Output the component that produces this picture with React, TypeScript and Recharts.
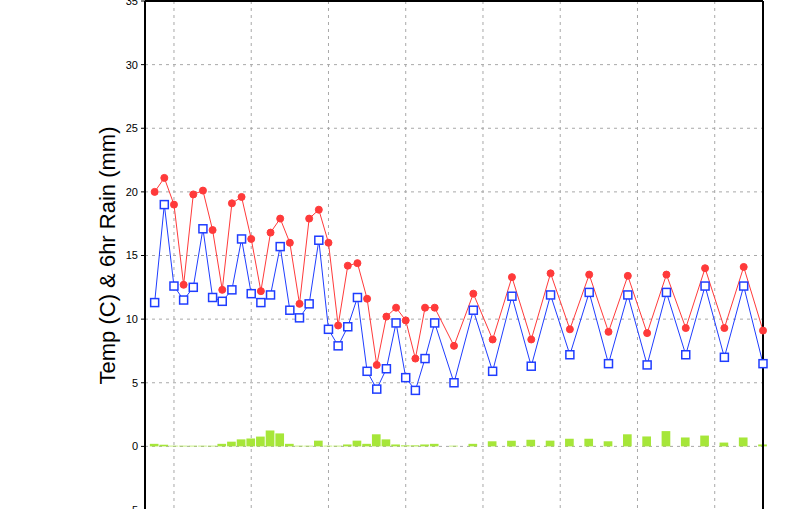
import React from "react";
import {
  ComposedChart,
  Line,
  Bar,
  XAxis,
  YAxis,
  CartesianGrid,
  ReferenceLine,
} from "recharts";

document.body.style.margin = "0";

// forecast hour of each sample (3-hourly, then 6-hourly)
const hours = [
  3, 6, 9, 12, 15, 18, 21, 24, 27, 30, 33, 36, 39, 42, 45, 48, 51, 54, 57, 60,
  63, 66, 69, 72, 75, 78, 81, 84, 87, 90, 96, 102, 108, 114, 120, 126, 132,
  138, 144, 150, 156, 162, 168, 174, 180, 186, 192,
];

const tempC = [
  20.0, 21.1, 19.0, 12.7, 19.8, 20.1, 17.0, 12.3, 19.1, 19.6, 16.3, 12.2, 16.8,
  17.9, 16.0, 11.2, 17.9, 18.6, 16.0, 9.5, 14.2, 14.4, 11.6, 6.4, 10.2, 10.9,
  9.9, 6.9, 10.9, 10.9, 7.9, 12.0, 8.4, 13.3, 8.4, 13.6, 9.2, 13.5, 9.0, 13.4,
  8.9, 13.5, 9.3, 14.0, 9.3, 14.1, 9.1,
];

const dewC = [
  11.3, 19.0, 12.6, 11.5, 12.5, 17.1, 11.7, 11.4, 12.3, 16.3, 12.0, 11.3, 11.9,
  15.7, 10.7, 10.1, 11.2, 16.2, 9.2, 7.9, 9.4, 11.7, 5.9, 4.5, 6.1, 9.7, 5.4,
  4.4, 6.9, 9.7, 5.0, 10.7, 5.9, 11.8, 6.3, 11.9, 7.2, 12.1, 6.5, 11.9, 6.4,
  12.1, 7.2, 12.6, 7.0, 12.6, 6.5,
];

const rainMm = [
  0.2, 0.13, 0.05, 0.05, 0.05, 0.05, 0.05, 0.2, 0.37, 0.55, 0.62, 0.77, 1.25,
  1.02, 0.2, 0.05, 0.05, 0.45, 0.05, 0.05, 0.15, 0.45, 0.2, 0.95, 0.55, 0.15,
  0.08, 0.08, 0.15, 0.2, 0.05, 0.2, 0.4, 0.45, 0.52, 0.45, 0.6, 0.6, 0.4, 0.95,
  0.78, 1.2, 0.7, 0.85, 0.3, 0.7, 0.15,
];

const dayTicks = [9, 33, 57, 81, 105, 129, 153, 177];
const yTicks = [-5, 0, 5, 10, 15, 20, 25, 30, 35];

const data = hours.map((h, i) => ({
  h,
  temp: tempC[i],
  dew: dewC[i],
  rain: rainMm[i],
}));

const font = "'Liberation Sans', Arial, sans-serif";

const SquareDot = (props: any) => {
  const { cx, cy, index } = props;
  if (cx == null || cy == null) return <g key={`sq-${index}`} />;
  return (
    <rect
      key={`sq-${index}`}
      x={cx - 4}
      y={cy - 4}
      width={8}
      height={8}
      fill="#ffffff"
      stroke="#1f3dff"
      strokeWidth={1.5}
    />
  );
};

export default function App() {
  return (
    <div
      style={{
        width: 800,
        height: 509,
        overflow: "hidden",
        position: "relative",
        background: "#fff",
      }}
    >
      <div style={{ position: "absolute", top: -20, left: 0 }}>
        <ComposedChart
          width={800}
          height={560}
          data={data}
          margin={{ top: 21, right: 37, bottom: 30, left: 0 }}
        >
          <CartesianGrid
            stroke="#a8a8a8"
            strokeDasharray="3 4"
            horizontalValues={yTicks}
            verticalValues={dayTicks}
          />
          <XAxis
            type="number"
            dataKey="h"
            domain={[0, 192]}
            ticks={dayTicks}
            hide
          />
          <YAxis
            type="number"
            domain={[-5, 35]}
            ticks={yTicks}
            interval={0}
            width={145}
            axisLine={{ stroke: "#000", strokeWidth: 2 }}
            tickLine={{ stroke: "#000", strokeWidth: 1 }}
            tickSize={4}
            tickMargin={3}
            tick={{ fontSize: 11, fill: "#000", fontFamily: font }}
            label={{
              value: "Temp (C) & 6hr Rain (mm)",
              angle: -90,
              position: "center",
              dx: 35,
              style: { fontSize: 22, fill: "#000", fontFamily: font },
            }}
          />
          <Bar
            dataKey="rain"
            fill="#a6e639"
            barSize={10}
            isAnimationActive={false}
          />
          <Line
            type="linear"
            dataKey="temp"
            stroke="#ff3a3a"
            strokeWidth={1}
            dot={{ r: 3.5, fill: "#ff3a3a", stroke: "#ff3a3a", strokeWidth: 1 }}
            activeDot={false}
            isAnimationActive={false}
          />
          <Line
            type="linear"
            dataKey="dew"
            stroke="#1f3dff"
            strokeWidth={1}
            dot={SquareDot}
            activeDot={false}
            isAnimationActive={false}
          />
          <ReferenceLine y={35} stroke="#000" strokeWidth={2} />
          <ReferenceLine x={192} stroke="#000" strokeWidth={2} />
        </ComposedChart>
      </div>
    </div>
  );
}
